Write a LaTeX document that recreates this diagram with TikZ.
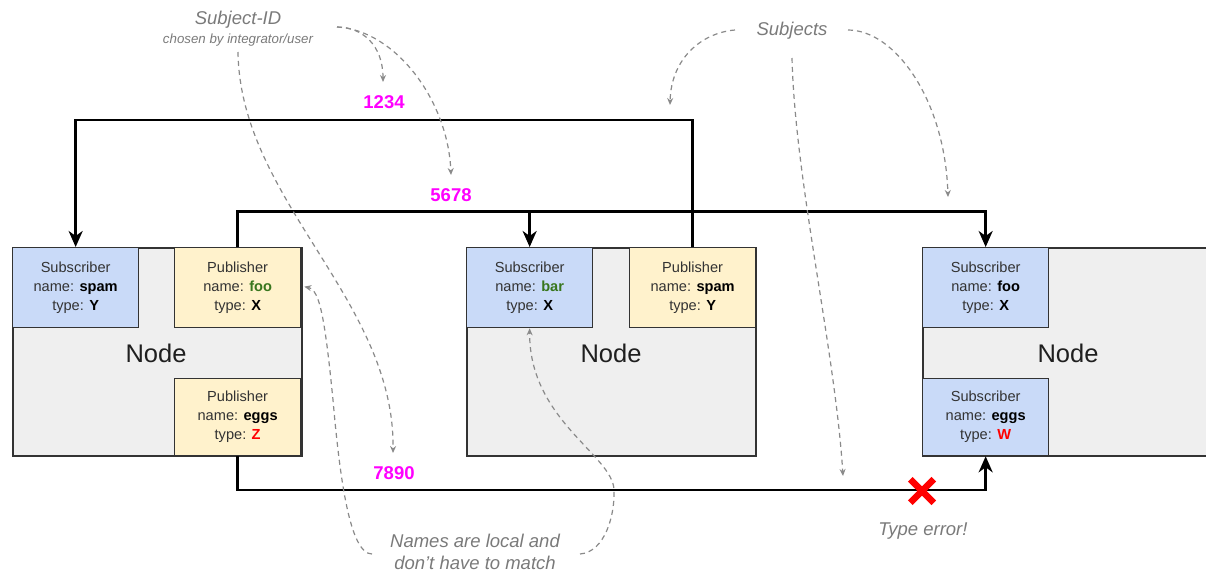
\documentclass[tikz,border=0pt]{standalone}
\usepackage{fontspec}
\setmainfont{Liberation Sans}
\usetikzlibrary{arrows.meta,shapes.misc}

\definecolor{subblue}{HTML}{C9DAF8}
\definecolor{pubyellow}{HTML}{FFF2CC}
\definecolor{nodegrey}{HTML}{EFEFEF}
\definecolor{edgedark}{HTML}{333333}
\definecolor{porttext}{HTML}{333333}
\definecolor{notegrey}{HTML}{7A7A7A}
\definecolor{dashgrey}{HTML}{8A8A8A}
\definecolor{idmagenta}{HTML}{FF00FF}
\definecolor{okgreen}{HTML}{38761D}
\definecolor{errred}{HTML}{FF0000}

% bold value inside a port box
\newcommand\portval[2][black]{\textbf{\color{#1}#2}}

\tikzset{
  nodebox/.style={draw=edgedark, line width=2.2pt, fill=nodegrey,
    minimum width=289pt, minimum height=208pt, anchor=north west, inner sep=0pt},
  port/.style={draw=edgedark, line width=1.3pt, minimum width=126pt,
    anchor=north west, inner sep=0pt, align=center, text=porttext,
    font=\fontsize{14.6}{19}\selectfont},
  topport/.style={port, minimum height=80pt},
  lowport/.style={port, minimum height=77pt},
  sub/.style={fill=subblue},
  pub/.style={fill=pubyellow},
  nodename/.style={text=black!88, font=\fontsize{25.5}{30}\selectfont},
  subjid/.style={text=idmagenta, font=\fontsize{18.5}{22}\selectfont\bfseries},
  notebig/.style={text=notegrey, align=center, font=\fontsize{18.5}{21.5}\selectfont\itshape},
  notesmall/.style={text=notegrey, font=\fontsize{13.3}{15}\selectfont\itshape},
  conn/.style={draw=black, line width=2.6pt,
    -{Stealth[length=16pt,width=14pt,inset=5pt]}},
  hint/.style={draw=dashgrey, line width=1.2pt, dash pattern=on 5pt off 4pt,
    -{Stealth[length=7pt,width=6pt]}},
}

\begin{document}
\begin{tikzpicture}[x=1pt,y=-1pt]
\useasboundingbox (0,0) rectangle (1206,573);

% ---- first node: one subscriber, two publishers
\node[nodebox] (node1) at (12,247) {};
\node[topport,sub] (sspam) at (12,247)
  {Subscriber\\name: \portval{spam}\\type: \portval{Y}};
\node[topport,pub] (pfoo) at (174,247)
  {Publisher\\name: \portval[okgreen]{foo}\\type: \portval{X}};
\node[lowport,pub] (peggs) at (174,378)
  {Publisher\\name: \portval{eggs}\\type: \portval[errred]{Z}};
\node[nodename] (label1) at (156,353) {Node};

% ---- second node: one subscriber, one publisher
\node[nodebox] (node2) at (466,247) {};
\node[topport,sub] (sbar) at (466,247)
  {Subscriber\\name: \portval[okgreen]{bar}\\type: \portval{X}};
\node[topport,pub] (pspam) at (629,247)
  {Publisher\\name: \portval{spam}\\type: \portval{Y}};
\node[nodename] (label2) at (611,353) {Node};

% ---- third node: two subscribers
\node[nodebox] (node3) at (922,247) {};
\node[topport,sub] (sfoo) at (922,247)
  {Subscriber\\name: \portval{foo}\\type: \portval{X}};
\node[lowport,sub] (seggs) at (922,378)
  {Subscriber\\name: \portval{eggs}\\type: \portval[errred]{W}};
\node[nodename] (label3) at (1068,353) {Node};

% ---- subject routes
\coordinate (lvlA) at (0,120);
\coordinate (lvlB) at (0,211.5);
\coordinate (lvlC) at (0,490);

\draw[conn] (pspam.north) -- (pspam.north |- lvlA) -| (sspam.north);
\draw[conn] (pfoo.north) -- (pfoo.north |- lvlB) -| (sfoo.north);
\draw[conn] (sbar.north |- lvlB) -- (sbar.north);
\draw[conn] (peggs.south) -- (peggs.south |- lvlC) -| (seggs.south);

\node[subjid] (id1234) at (384,102) {1234};
\node[subjid] (id5678) at (451,195) {5678};
\node[subjid] (id7890) at (394,473) {7890};

\node[cross out, draw=errred, line width=6.5pt, minimum size=17pt,
  inner sep=0pt] (xmark) at (922,491) {};

% ---- annotations
\node[notebig] (sidtitle) at (238,20) {Subject-ID};
\node[notesmall] (sidnote) at (238,40) {chosen by integrator/user};
\node[notebig] (subjects) at (792,31) {Subjects};
\node[notebig] (typeerr) at (923,531) {Type error!};
\node[notebig] (localnames) at (475,552) {Names are local and\\don’t have to match};

\coordinate (sidR) at (337,27);
\coordinate (sidB) at (238,52);
\coordinate (to1234) at (383,82);
\coordinate (to5678) at (451,175);
\coordinate (to7890) at (393,453);
\draw[hint] (sidR) .. controls (362,27) and (383,45) .. (to1234);
\draw[hint] (sidR) .. controls (395,30) and (448,100) .. (to5678);
\draw[hint] (sidB) .. controls (240,200) and (395,300) .. (to7890);

\coordinate (subL) at (735,30);
\coordinate (subM) at (792,58);
\coordinate (subR) at (848,30);
\coordinate (onA) at (670,105);
\coordinate (onC) at (843,476);
\coordinate (onB) at (948,197);
\draw[hint] (subL) .. controls (700,33) and (671,60) .. (onA);
\draw[hint] (subM) .. controls (795,180) and (835,350) .. (onC);
\draw[hint] (subR) .. controls (895,30) and (945,100) .. (onB);

\coordinate (locL) at (372,554);
\coordinate (locR) at (580,554);
\draw[hint] (locL) .. controls (350,554) and (340,480) .. (333,400)
  .. controls (325,320) and (320,290) .. ([xshift=3pt,yshift=1pt]pfoo.east);
\draw[hint] (locR) .. controls (605,552) and (615,515) .. (614,490)
  .. controls (613,455) and (529,420) .. (sbar.south);
\end{tikzpicture}
\end{document}
